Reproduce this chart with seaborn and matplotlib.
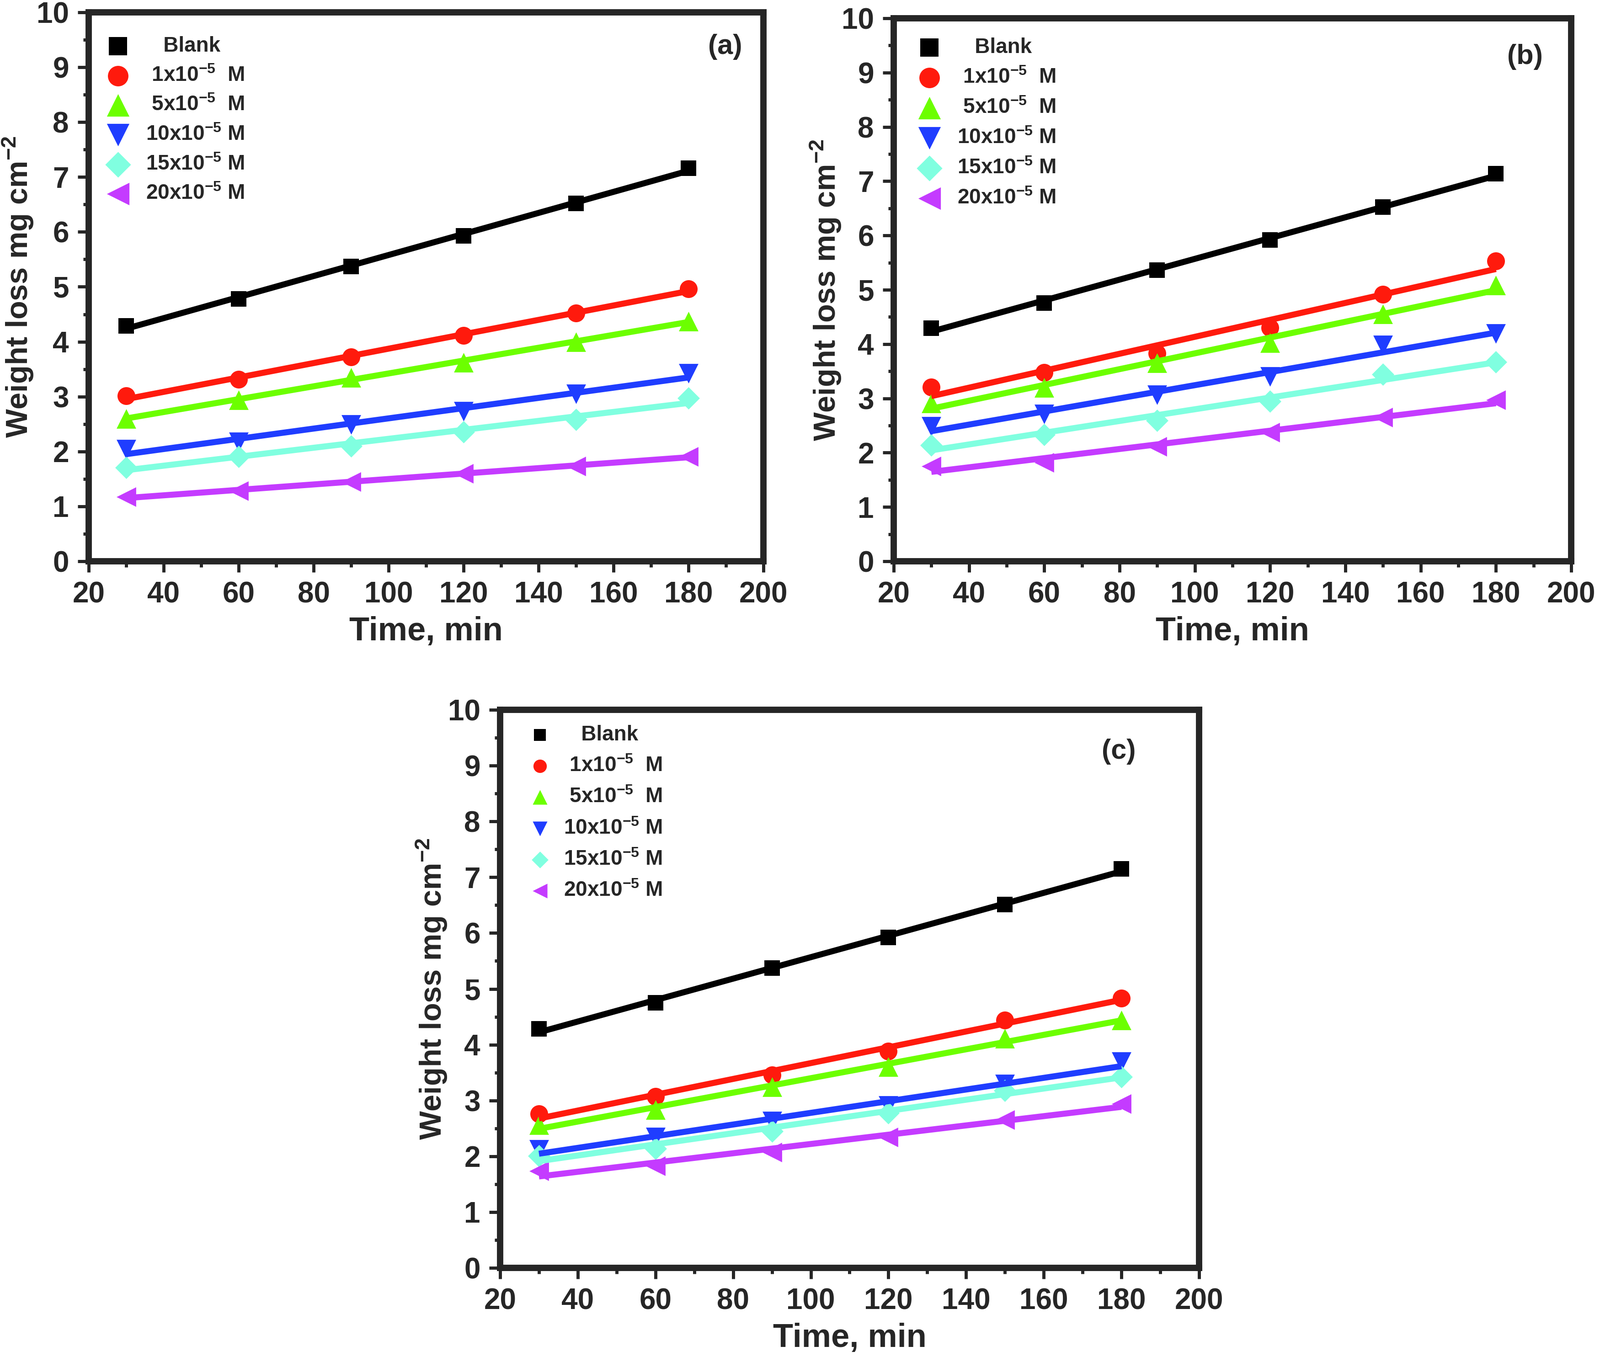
import numpy as np
import pandas as pd
import matplotlib
matplotlib.use('Agg')
import matplotlib.pyplot as plt
import seaborn as sns
from matplotlib.ticker import MultipleLocator

# time points (min)
time = [30, 60, 90, 120, 150, 180]

# series names / styles
series = ['Blank', '1x10-5', '5x10-5', '10x10-5', '15x10-5', '20x10-5']
leg_labels = ['   Blank', ' 1x10$^{-5}$  M', ' 5x10$^{-5}$  M',
              '10x10$^{-5}$ M', '15x10$^{-5}$ M', '20x10$^{-5}$ M']
colors = ['#000000', '#FF1A0D', '#6CFF00', '#1F3DFF', '#80FFE0', '#C43BFF']
markers = ['s', 'o', '^', 'v', 'D', '<']
msizes = [620, 790, 950, 950, 620, 950]

# weight loss, mg cm-2
wl_a = [
    [4.29, 4.78, 5.37, 5.93, 6.52, 7.16],
    [3.01, 3.31, 3.72, 4.11, 4.52, 4.96],
    [2.60, 2.94, 3.35, 3.62, 4.00, 4.37],
    [2.04, 2.17, 2.49, 2.73, 3.05, 3.42],
    [1.71, 1.91, 2.10, 2.36, 2.58, 2.97],
    [1.17, 1.28, 1.45, 1.60, 1.73, 1.91],
]
wl_b = [
    [4.29, 4.76, 5.36, 5.92, 6.52, 7.14],
    [3.21, 3.48, 3.83, 4.30, 4.92, 5.53],
    [2.91, 3.20, 3.65, 4.02, 4.55, 5.08],
    [2.48, 2.71, 3.06, 3.40, 3.98, 4.19],
    [2.14, 2.33, 2.59, 2.95, 3.44, 3.67],
    [1.75, 1.82, 2.11, 2.37, 2.65, 2.97],
]
wl_c = [
    [4.28, 4.75, 5.37, 5.92, 6.51, 7.15],
    [2.76, 3.07, 3.46, 3.88, 4.44, 4.83],
    [2.56, 2.83, 3.24, 3.60, 4.11, 4.44],
    [2.12, 2.34, 2.63, 2.91, 3.29, 3.69],
    [2.01, 2.14, 2.45, 2.78, 3.18, 3.42],
    [1.74, 1.83, 2.07, 2.34, 2.65, 2.94],
]

sns.set_style('ticks')
plt.rcParams['font.family'] = ['Liberation Sans', 'DejaVu Sans']
plt.rcParams['font.weight'] = 'bold'
plt.rcParams['mathtext.default'] = 'regular'

fig = plt.figure(figsize=(35, 29.69), dpi=100)

# axes boxes in pixels (left, right, top, bottom) of 3500 x 2969
boxes = {
    'a': (194, 1670, 27, 1228),
    'b': (1955, 3437, 40, 1228),
    'c': (1094, 2623, 1553, 2774),
}
panel_pos = {'a': (0.943, 0.937), 'b': (0.932, 0.929), 'c': (0.885, 0.925)}
ylabel_x = {'a': -0.079, 'b': -0.075, 'c': -0.073}
legend_pos = {'a': (0.0, 0.991), 'b': (0.0095, 0.999), 'c': (0.015, 1.007)}
legend_opts = {
    'a': dict(labelspacing=0.45, handletextpad=0.82, markerscale=1.15),
    'b': dict(labelspacing=0.48, handletextpad=0.82, markerscale=1.15),
    'c': dict(labelspacing=0.53, handletextpad=0.63, markerscale=0.75),
}
data = {'a': wl_a, 'b': wl_b, 'c': wl_c}

W, H = 3500, 2969
for key in ['a', 'b', 'c']:
    l, r, t, b = boxes[key]
    ax = fig.add_axes([l / W, 1 - b / H, (r - l) / W, (b - t) / H])
    for i, name in enumerate(series):
        df = pd.DataFrame({'time': time, 'wl': data[key][i]})
        sns.regplot(data=df, x='time', y='wl', ax=ax, ci=None,
                    marker=markers[i], color=colors[i], label=leg_labels[i],
                    scatter_kws=dict(s=msizes[i], alpha=1, linewidths=0, zorder=2),
                    line_kws=dict(lw=9.5, zorder=3, solid_capstyle='butt'))

    ax.set_xlim(20, 200)
    ax.set_ylim(0, 10)
    ax.xaxis.set_major_locator(MultipleLocator(20))
    ax.xaxis.set_minor_locator(MultipleLocator(10))
    ax.yaxis.set_major_locator(MultipleLocator(1))
    ax.yaxis.set_minor_locator(MultipleLocator(0.5))
    ax.tick_params(which='major', direction='out', length=17, width=5,
                   labelsize=46, pad=14)
    ax.tick_params(which='minor', direction='out', length=9, width=5)
    for sp in ax.spines.values():
        sp.set_linewidth(10)
        sp.set_visible(True)
    for lab in ax.get_xticklabels() + ax.get_yticklabels():
        lab.set_fontweight('bold')

    ax.set_xlabel('Time, min', fontsize=52, fontweight='bold', labelpad=12)
    ax.set_ylabel('Weight loss mg cm$^{-2}$', fontsize=48, fontweight='bold')
    ax.yaxis.set_label_coords(ylabel_x[key], 0.5)

    ax.text(*panel_pos[key], f'({key})', transform=ax.transAxes, fontsize=44,
            fontweight='bold', ha='center', va='center')

    handles, labs = ax.get_legend_handles_labels()
    leg = ax.legend(handles, labs, loc='upper left', bbox_to_anchor=legend_pos[key],
                    frameon=False, fontsize=33, scatterpoints=1, handlelength=1.0,
                    borderaxespad=0.5, **legend_opts[key])
    for txt in leg.get_texts():
        txt.set_fontweight('bold')

fig.savefig('out.png', dpi=100, facecolor='white')
